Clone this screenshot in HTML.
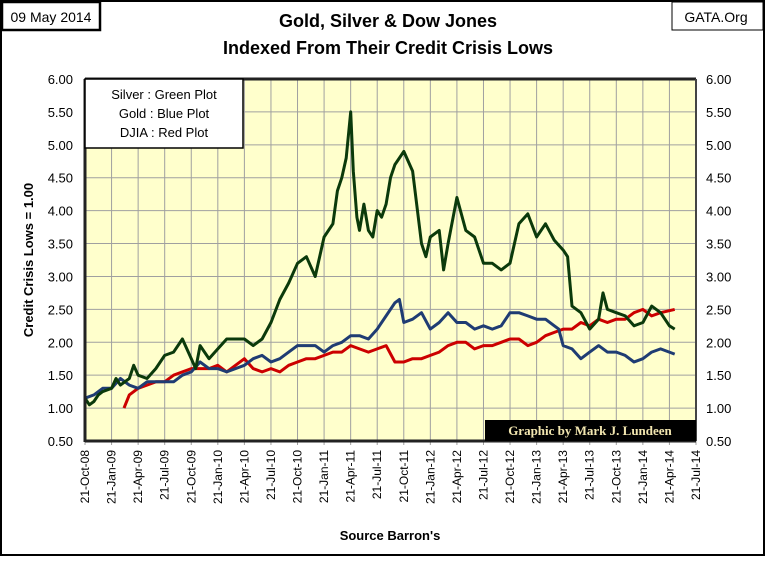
<!DOCTYPE html>
<html><head><meta charset="utf-8"><style>
body{margin:0;width:765px;height:556px;overflow:hidden;background:#fff;font-family:"Liberation Sans",sans-serif}
</style></head><body>
<svg id="c" width="765" height="556" xmlns="http://www.w3.org/2000/svg">
<rect x="1" y="1" width="763" height="554" fill="#fff" stroke="#000" stroke-width="2"/>
<rect x="2" y="2" width="98" height="28" fill="#fff" stroke="#000" stroke-width="2.5"/>
<text x="51" y="22" font-size="14" text-anchor="middle">09 May 2014</text>
<rect x="672" y="2" width="91" height="28" fill="#fff" stroke="#000" stroke-width="1"/>
<text x="716" y="22" font-size="14" text-anchor="middle">GATA.Org</text>
<text x="388" y="27" font-size="18" font-weight="bold" text-anchor="middle">Gold, Silver &amp; Dow Jones</text>
<text x="388" y="54" font-size="18" font-weight="bold" text-anchor="middle">Indexed From Their Credit Crisis Lows</text>
<rect x="85" y="79" width="611" height="362" fill="#ffffcc"/>
<g id="grid"></g><g id="series"></g><g id="axes"></g>
<text transform="translate(33,260) rotate(-90)" font-size="13" font-weight="bold" text-anchor="middle">Credit Crisis Lows = 1.00</text>
<text x="390" y="540" font-size="13" font-weight="bold" text-anchor="middle">Source Barron's</text>
<rect x="85" y="79" width="158" height="69" fill="#fff" stroke="#000" stroke-width="1.5"/>
<text x="164" y="99" font-size="13" text-anchor="middle">Silver : Green Plot</text>
<text x="164" y="118" font-size="13" text-anchor="middle">Gold : Blue Plot</text>
<text x="164" y="137" font-size="13" text-anchor="middle">DJIA : Red Plot</text>
<rect x="485" y="420" width="211" height="21" fill="#000"/>
<text x="590" y="435" font-size="13" font-weight="bold" fill="#f2e6b0" text-anchor="middle" font-family="Liberation Serif, serif">Graphic by Mark J. Lundeen</text>
</svg>
<script>
const yTicks=[0.5,1,1.5,2,2.5,3,3.5,4,4.5,5,5.5,6];
const xLabels=["21-Oct-08","21-Jan-09","21-Apr-09","21-Jul-09","21-Oct-09","21-Jan-10","21-Apr-10","21-Jul-10","21-Oct-10","21-Jan-11","21-Apr-11","21-Jul-11","21-Oct-11","21-Jan-12","21-Apr-12","21-Jul-12","21-Oct-12","21-Jan-13","21-Apr-13","21-Jul-13","21-Oct-13","21-Jan-14","21-Apr-14","21-Jul-14"];
const silverMonths=[0,0.5,1,1.5,2,3,3.5,4,5,5.5,6,7,8,9,10,11,12,12.5,13,14,15,16,17,18,19,20,21,22,23,24,25,26,27,28,28.5,29,29.5,30,30.3,30.7,31,31.5,32,32.5,33,33.5,34,34.5,35,35.5,36,37,38,38.5,39,40,40.5,41,42,43,44,45,46,47,48,49,50,51,52,53,54,54.5,55,56,57,58,58.5,59,60,61,62,63,64,65,66,66.6];
const silverValues=[1.15,1.05,1.1,1.2,1.25,1.3,1.45,1.35,1.45,1.65,1.5,1.45,1.6,1.8,1.85,2.05,1.75,1.6,1.95,1.75,1.9,2.05,2.05,2.05,1.95,2.05,2.3,2.65,2.9,3.2,3.3,3.0,3.6,3.8,4.3,4.5,4.8,5.5,4.6,3.9,3.7,4.1,3.7,3.6,4.0,3.9,4.1,4.5,4.7,4.8,4.9,4.6,3.5,3.3,3.6,3.7,3.1,3.5,4.2,3.7,3.6,3.2,3.2,3.1,3.2,3.8,3.95,3.6,3.8,3.55,3.4,3.3,2.55,2.45,2.2,2.35,2.75,2.5,2.45,2.4,2.25,2.3,2.55,2.45,2.25,2.2];
const goldMonths=[0,1,2,3,4,5,6,7,8,9,10,11,12,13,14,15,16,17,18,19,20,21,22,23,24,25,26,27,28,29,30,31,32,33,34,35,35.5,36,37,38,39,40,41,42,43,44,45,46,47,48,49,50,51,52,53,53.5,54,55,56,57,58,59,60,61,62,63,64,65,66.6];
const goldValues=[1.15,1.2,1.3,1.3,1.45,1.35,1.3,1.4,1.4,1.4,1.4,1.5,1.55,1.7,1.6,1.6,1.55,1.6,1.65,1.75,1.8,1.7,1.75,1.85,1.95,1.95,1.95,1.85,1.95,2.0,2.1,2.1,2.05,2.2,2.4,2.6,2.65,2.3,2.35,2.45,2.2,2.3,2.45,2.3,2.3,2.2,2.25,2.2,2.25,2.45,2.45,2.4,2.35,2.35,2.25,2.2,1.95,1.9,1.75,1.85,1.95,1.85,1.85,1.8,1.7,1.75,1.85,1.9,1.82];
const djiaMonths=[4.4,5,6,7,8,9,10,11,12,13,14,15,16,17,18,19,20,21,22,23,24,25,26,27,28,29,30,31,32,33,34,35,36,37,38,39,40,41,42,43,44,45,46,47,48,49,50,51,52,53,54,55,56,57,58,59,60,61,62,63,64,65,66.6];
const djiaValues=[1.0,1.2,1.3,1.35,1.4,1.4,1.5,1.55,1.6,1.6,1.6,1.65,1.55,1.65,1.75,1.6,1.55,1.6,1.55,1.65,1.7,1.75,1.75,1.8,1.85,1.85,1.95,1.9,1.85,1.9,1.95,1.7,1.7,1.75,1.75,1.8,1.85,1.95,2.0,2.0,1.9,1.95,1.95,2.0,2.05,2.05,1.95,2.0,2.1,2.15,2.2,2.2,2.3,2.25,2.35,2.3,2.35,2.35,2.45,2.5,2.4,2.45,2.5];
const X0=85,X1=696,Y0=441,Y1=79;
const xScale=m=>X0+m*(X1-X0)/69;
const yScale=v=>Y0-(v-0.5)*(Y0-Y1)/5.5;
const NS="http://www.w3.org/2000/svg";
function mk(t,a,p){const e=document.createElementNS(NS,t);for(const k in a)e.setAttribute(k,a[k]);p.appendChild(e);return e;}
const grid=document.getElementById('grid'),axes=document.getElementById('axes'),ser=document.getElementById('series');
yTicks.forEach(v=>{const y=yScale(v);
 const g=mk('line',{x1:X0,x2:X1,y1:y,y2:y,stroke:'#a0a0a0','stroke-width':1},grid);
 
 
 const l=mk('text',{x:73,y:y+5,'font-size':13,'text-anchor':'end'},axes);l.textContent=v.toFixed(2);
 
 
 const r=mk('text',{x:706,y:y+5,'font-size':13},axes);r.textContent=v.toFixed(2);
 
 
});
xLabels.forEach((s,i)=>{const x=xScale(i*3);
 const g=mk('line',{x1:x,x2:x,y1:Y1,y2:Y0+4,stroke:'#a0a0a0','stroke-width':1},grid);
 
 
 const t=mk('text',{x:0,y:0,'font-size':12,'text-anchor':'end',transform:`translate(${x+4},${Y0+9}) rotate(-90)`},axes);t.textContent=s;
 
 
});
const la=mk('line',{x1:X0,x2:X0,y1:Y1,y2:Y0+1,stroke:'#222','stroke-width':3},axes);


const ba=mk('line',{x1:X0,x2:X1,y1:Y0,y2:Y0,stroke:'#222','stroke-width':3},axes);


const ta=mk('line',{x1:X0,x2:X1,y1:Y1,y2:Y1,stroke:'#222','stroke-width':3},axes);


const ra=mk('line',{x1:X1,x2:X1,y1:Y1,y2:Y0,stroke:'#444','stroke-width':2},axes);


function line(ms,vs,c,n){const d=ms.map((m,i)=>(i?'L':'M')+xScale(m).toFixed(1)+','+yScale(vs[i]).toFixed(1)).join('');
 const p=mk('path',{d:d,fill:'none',stroke:c,'stroke-width':3,'stroke-linejoin':'round'},ser);
 
 }
line(djiaMonths,djiaValues,'#cc0000','djia-line');
line(goldMonths,goldValues,'#1f3c73','gold-line');
line(silverMonths,silverValues,'#0b3a0b','silver-line');
</script>
</body></html>
